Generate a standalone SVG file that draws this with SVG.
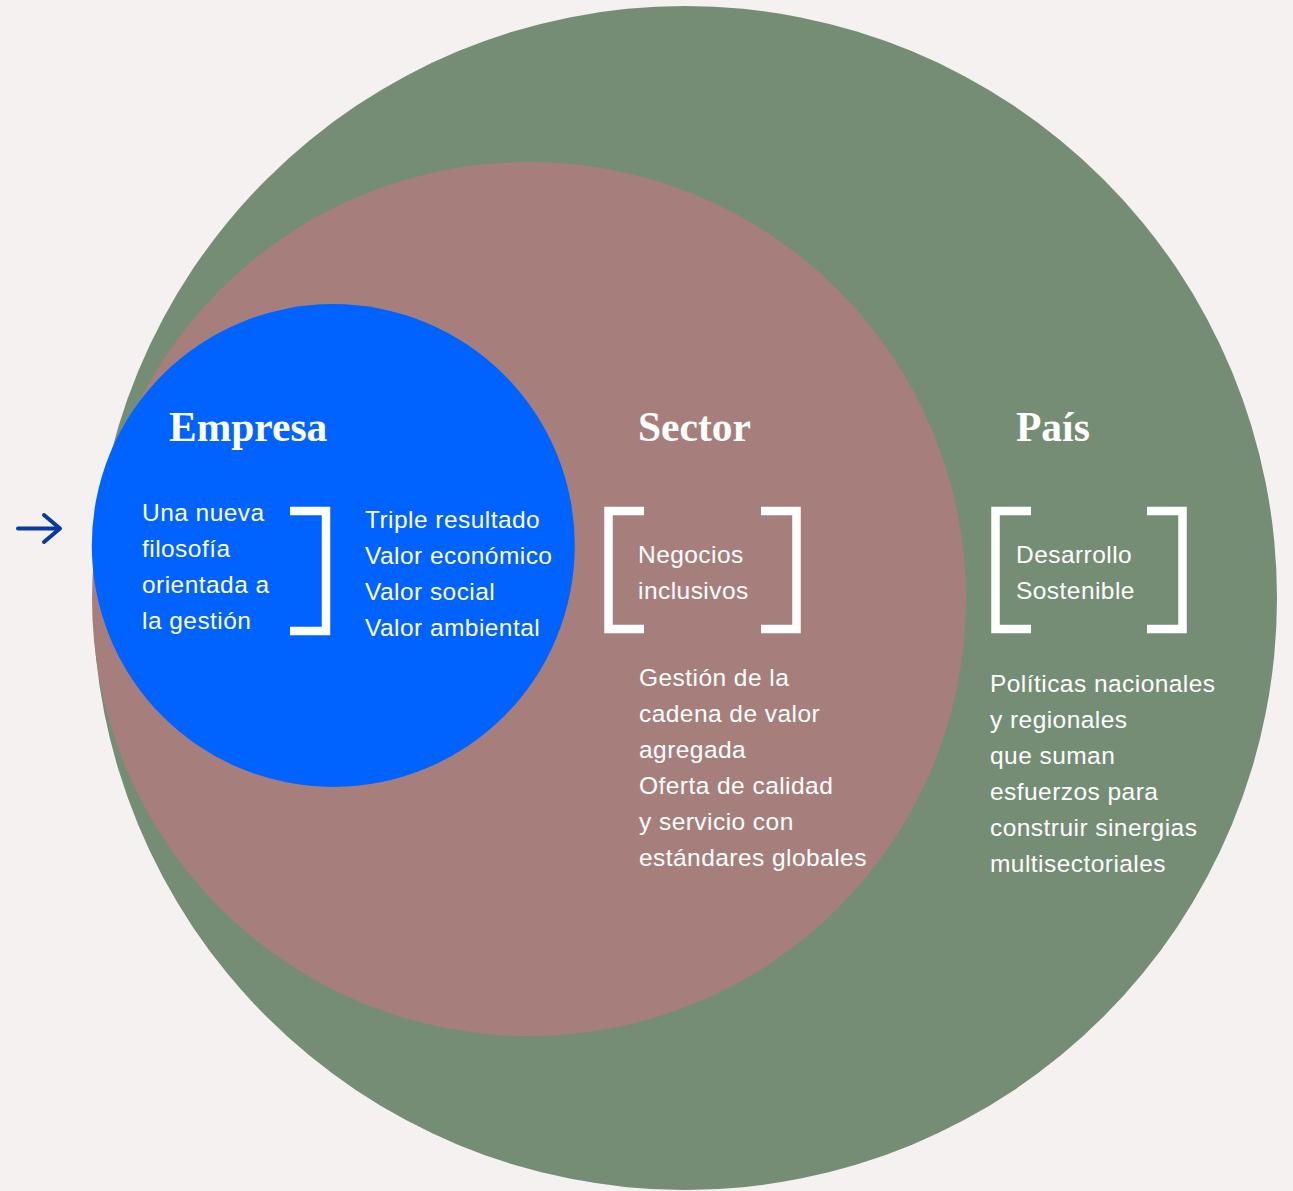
<svg xmlns="http://www.w3.org/2000/svg" width="1293" height="1191" viewBox="0 0 1293 1191">
<style>
.title{font-family:"Liberation Serif","DejaVu Serif",serif;font-weight:bold;font-size:41.5px;fill:#ffffff}
.body{font-family:"Liberation Sans","Noto Sans",sans-serif;font-size:24.5px;letter-spacing:0.45px;fill:#ffffff}
.br{fill:none;stroke:#ffffff;stroke-width:8.5;stroke-linecap:butt;stroke-linejoin:miter}
</style>
<rect width="1293" height="1191" fill="#f5f1f0"/>
<g id="pais">
<circle cx="685" cy="598" r="592" fill="#758d75"/>
</g>
<g id="sector">
<circle cx="529" cy="599" r="437" fill="#a67f7d"/>
</g>
<g id="empresa">
<circle cx="333.3" cy="545.5" r="241.5" fill="#0062ff"/>
<text class="title" x="169" y="441">Empresa</text>
<text class="body" x="142" y="521">Una nueva</text>
<text class="body" x="142" y="557">filosofía</text>
<text class="body" x="142" y="593">orientada a</text>
<text class="body" x="142" y="629">la gestión</text>
<path class="br" d="M290,511 H326 V631 H290"/>
<text class="body" x="365" y="528">Triple resultado</text>
<text class="body" x="365" y="564">Valor económico</text>
<text class="body" x="365" y="600">Valor social</text>
<text class="body" x="365" y="636">Valor ambiental</text>
</g>
<g id="sector-content">
<text class="title" x="638" y="441">Sector</text>
<path class="br" d="M644,511 H608.5 V629 H644"/>
<path class="br" d="M761,511 H796.5 V629 H761"/>
<text class="body" x="638" y="563">Negocios</text>
<text class="body" x="638" y="599">inclusivos</text>
<text class="body" x="639" y="686">Gestión de la</text>
<text class="body" x="639" y="722">cadena de valor</text>
<text class="body" x="639" y="758">agregada</text>
<text class="body" x="639" y="794">Oferta de calidad</text>
<text class="body" x="639" y="830">y servicio con</text>
<text class="body" x="639" y="866">estándares globales</text>
</g>
<g id="pais-content">
<text class="title" x="1016" y="441">País</text>
<path class="br" d="M1031,511 H995.5 V629 H1031"/>
<path class="br" d="M1147,511 H1182.5 V629 H1147"/>
<text class="body" x="1016" y="563">Desarrollo</text>
<text class="body" x="1016" y="599">Sostenible</text>
<text class="body" x="990" y="692">Políticas nacionales</text>
<text class="body" x="990" y="728">y regionales</text>
<text class="body" x="990" y="764">que suman</text>
<text class="body" x="990" y="800">esfuerzos para</text>
<text class="body" x="990" y="836">construir sinergias</text>
<text class="body" x="990" y="872">multisectoriales</text>
</g>
<g id="connectors">
<path d="M18,528.5 H60 M44,515 L60,528.5 L44,542" fill="none" stroke="#0a3aa0" stroke-width="4" stroke-linecap="round" stroke-linejoin="round"/>
</g>
</svg>
